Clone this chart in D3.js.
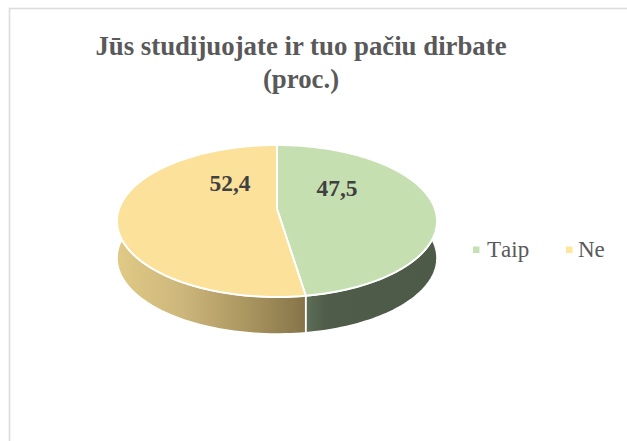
<!DOCTYPE html>
<html>
<head>
<meta charset="utf-8">
<script src="https://cdn.jsdelivr.net/npm/d3@7"></script>
<style>
html,body{margin:0;padding:0;background:#fff;overflow:hidden}
svg{display:block}
text{font-family:"Liberation Serif",serif}
</style>
</head>
<body>
<div id="chart"></div>
<script>
const categories = ["Taip", "Ne"];
const values = [47.5, 52.4];
const valueLabels = ["47,5", "52,4"];
const titleLines = ["Jūs studijuojate ir tuo pačiu dirbate", "(proc.)"];
const topColors = ["#C5DFB1", "#FBE199"];
const legendColors = ["#C5E0B4", "#FFE699"];

const W = 627, H = 441;
const svg = d3.select("#chart").append("svg").attr("width", W).attr("height", H);

svg.append("rect").attr("x", 9.5).attr("y", 8.5).attr("width", W + 40).attr("height", H + 40)
  .attr("fill", "#fff").attr("stroke", "#dcdcdc").attr("stroke-width", 1.6);

svg.append("g").selectAll("text").data(titleLines).join("text")
  .attr("x", 301).attr("y", (d, i) => 55 + i * 33)
  .attr("text-anchor", "middle").attr("font-size", 26.8).attr("font-weight", "bold")
  .attr("fill", "#595959").text(d => d);

// Perspective projection of the unit disc onto the tilted pie
const tilt = -0.158, spreadX = 158, spreadY = 76, shiftY = -12;
const xPx = d3.scaleLinear().domain([-160, 160]).range([117, 437]);
const yPx = d3.scaleLinear().domain([-76, 76]).range([145, 297]);
const depth = 37;
function project(angle) {
  const u = Math.sin(angle), v = -Math.cos(angle), w = 1 + tilt * v;
  return [xPx(spreadX * u / w), yPx((spreadY * v + shiftY) / w)];
}
const centerPx = [xPx(0), yPx(shiftY)];

const slices = d3.pie().sort(null).value(d => d)(values);
const edge = s => d3.range(0, 121).map(i => project(s.startAngle + (s.endAngle - s.startAngle) * i / 120));
const line = d3.line();

const defs = svg.append("defs");
function gradient(id, x1, x2, stops) {
  const g = defs.append("linearGradient").attr("id", id).attr("gradientUnits", "userSpaceOnUse")
    .attr("x1", x1).attr("x2", x2).attr("y1", 0).attr("y2", 0);
  stops.forEach(s => g.append("stop").attr("offset", s[0]).attr("stop-color", s[1]));
}
gradient("sideG", 305, 437, [[0, "#5F6F58"], [0.16, "#4F5C49"], [1, "#4D5A47"]]);
gradient("sideY", 117, 304, [[0, "#E0CA85"], [0.35, "#CDB67B"], [0.7, "#A9955F"], [1, "#87754A"]]);

// Walls first, then the top faces
svg.append("g").selectAll("path").data(slices).join("path")
  .attr("d", s => {
    const top = edge(s);
    const low = top.map(p => [p[0], p[1] + depth]).reverse();
    return line(top.concat(low)) + "Z";
  })
  .attr("fill", (s, i) => i === 0 ? "url(#sideG)" : "url(#sideY)")
  .attr("stroke", "#fff").attr("stroke-width", 1.6).attr("stroke-linejoin", "round");

svg.append("g").selectAll("path").data(slices).join("path")
  .attr("d", s => line([centerPx].concat(edge(s))) + "Z")
  .attr("fill", (s, i) => topColors[i])
  .attr("stroke", "#fff").attr("stroke-width", 2).attr("stroke-linejoin", "round");

const labelX = [337, 230], labelY = [196, 191];
svg.append("g").selectAll("text").data(valueLabels).join("text")
  .attr("x", (d, i) => labelX[i]).attr("y", (d, i) => labelY[i])
  .attr("text-anchor", "middle").attr("font-size", 23.4).attr("font-weight", "bold")
  .attr("fill", "#404040").text(d => d);

const legendSwatchX = [473, 566], legendTextX = [487, 578];
const legend = svg.append("g").selectAll("g").data(categories).join("g");
legend.append("rect").attr("x", (d, i) => legendSwatchX[i]).attr("y", 246.5)
  .attr("width", 6.5).attr("height", 6.5).attr("fill", (d, i) => legendColors[i]);
legend.append("text").attr("x", (d, i) => legendTextX[i]).attr("y", 257)
  .attr("font-size", 23).style("font-kerning", "none").attr("fill", "#595959").text(d => d);
</script>
</body>
</html>
